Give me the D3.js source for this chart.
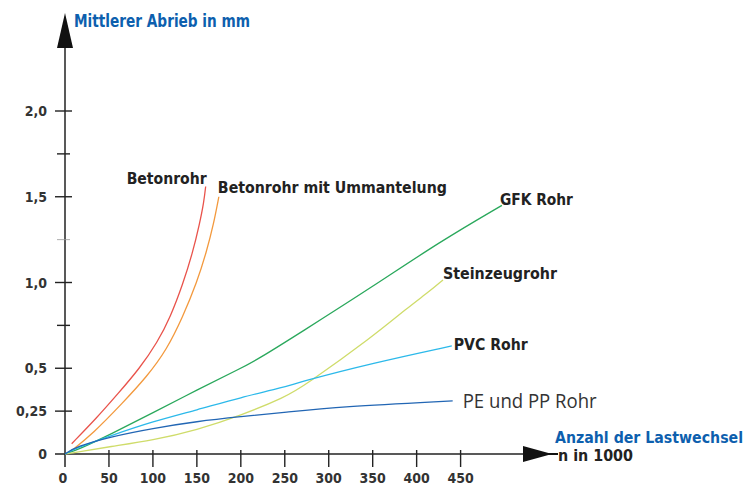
<!DOCTYPE html>
<html>
<head>
<meta charset="utf-8">
<script src="https://cdn.jsdelivr.net/npm/d3@7"></script>
<style>
  body { margin: 0; background: #fff; }
  svg { display: block; }
</style>
</head>
<body>
<div id="chart"></div>
<script>
// axis ticks
var xTicks = [0, 50, 100, 150, 200, 250, 300, 350, 400, 450];
var yTicks = [0, 0.25, 0.5, 1.0, 1.5, 2.0];
var yTickLabels = ["0", "0,25", "0,5", "1,0", "1,5", "2,0"];
var yMinorTicks = [0.75, 1.25, 1.75];

// Lastwechsel (n in 1000) / mittlerer Abrieb (mm)
var betonX = [7.6, 36, 60, 85, 105, 120, 134, 145, 153, 158, 160];
var betonY = [0.06, 0.21, 0.35, 0.50, 0.65, 0.80, 0.99, 1.17, 1.34, 1.47, 1.56];

var ummX = [5, 32, 66, 93, 116, 134, 150, 161, 169, 175];
var ummY = [0.01, 0.12, 0.30, 0.45, 0.61, 0.80, 1.0, 1.18, 1.34, 1.50];

var gfkX = [0, 17, 51, 100, 150, 200, 218, 267, 350, 427, 497];
var gfkY = [0, 0.03, 0.113, 0.24, 0.373, 0.50, 0.548, 0.705, 0.976, 1.24, 1.45];

var steinX = [0, 13, 51, 100, 150, 200, 250, 273, 350, 389, 415, 430];
var steinY = [0, 0.01, 0.043, 0.08, 0.14, 0.225, 0.33, 0.40, 0.684, 0.85, 0.95, 1.015];

var pvcX = [0, 13, 51, 100, 150, 200, 250, 267, 350, 440];
var pvcY = [0, 0.035, 0.105, 0.19, 0.257, 0.33, 0.39, 0.42, 0.53, 0.63];

var peX = [0, 13, 51, 100, 150, 200, 250, 313, 441];
var peY = [0, 0.043, 0.10, 0.15, 0.19, 0.218, 0.243, 0.276, 0.31];

var seriesNames = ["Betonrohr", "Betonrohr mit Ummantelung", "GFK Rohr", "Steinzeugrohr", "PVC Rohr", "PE und PP Rohr"];
var seriesX = [betonX, ummX, gfkX, steinX, pvcX, peX];
var seriesY = [betonY, ummY, gfkY, steinY, pvcY, peY];

// look of each series and where its name sits next to the line end
var seriesStyle = [
  { color: "#e9534b", anchor: "end",   dx: 1,  dy: -2, size: 16, weight: "bold",   len: 80 },
  { color: "#f3993d", anchor: "start", dx: -1, dy: -4, size: 16, weight: "bold",   len: 229 },
  { color: "#2aa85c", anchor: "start", dx: -2, dy: 0,  size: 16, weight: "bold",   len: 73 },
  { color: "#cfdc6a", anchor: "start", dx: 0,  dy: -1, size: 16, weight: "bold",   len: 114 },
  { color: "#2cb9ea", anchor: "start", dx: 2,  dy: 4,  size: 16, weight: "bold",   len: 74 },
  { color: "#2266b4", anchor: "start", dx: 10, dy: 7,  size: 20, weight: "normal", len: 134 }
];

var width = 750, height = 485;
var boldFont = "'Liberation Sans Narrow', 'DejaVu Sans Condensed', sans-serif";
var axisColor = "#222";
var titleColor = "#0d5fae";

var svg = d3.select("#chart").append("svg")
  .attr("width", width)
  .attr("height", height);

var x = d3.scaleLinear().domain([0, 450]).range([65, 460.6]);
var y = d3.scaleLinear().domain([0, 2]).range([454, 111]);

// axes lines
var axes = svg.append("g");
axes.append("line")
  .attr("x1", x(0)).attr("x2", x(0))
  .attr("y1", y(0) + 13).attr("y2", 46)
  .attr("stroke", axisColor).attr("stroke-width", 1.5);
axes.append("line")
  .attr("x1", x(0) - 10).attr("x2", 525)
  .attr("y1", y(0)).attr("y2", y(0))
  .attr("stroke", axisColor).attr("stroke-width", 1.5);

// arrow heads
axes.append("path")
  .attr("d", "M" + (x(0) - 8) + ",48 L" + x(0) + ",13 L" + (x(0) + 8) + ",48 Z")
  .attr("fill", "#111");
axes.append("path")
  .attr("d", "M523," + (y(0) - 8) + " L552," + y(0) + " L523," + (y(0) + 8) + " Z")
  .attr("fill", "#111");
axes.append("line")
  .attr("x1", 545).attr("x2", 558)
  .attr("y1", y(0)).attr("y2", y(0))
  .attr("stroke", "#111").attr("stroke-width", 2);

// y ticks
axes.selectAll(".ytick")
  .data(yTicks.filter(function(d) { return d > 0; }))
  .enter().append("line")
  .attr("class", "ytick")
  .attr("x1", x(0) - 10).attr("x2", x(0) + 7)
  .attr("y1", function(d) { return y(d); })
  .attr("y2", function(d) { return y(d); })
  .attr("stroke", axisColor).attr("stroke-width", 1.4);

axes.selectAll(".yminor")
  .data(yMinorTicks)
  .enter().append("line")
  .attr("class", "yminor")
  .attr("x1", x(0) - 8).attr("x2", x(0) + 5)
  .attr("y1", function(d) { return y(d); })
  .attr("y2", function(d) { return y(d); })
  .attr("stroke", function(d) { return d === 1.25 ? "#999" : axisColor; })
  .attr("stroke-width", function(d) { return d === 1.25 ? 0.8 : 1.4; });

axes.selectAll(".ylabel")
  .data(yTicks)
  .enter().append("text")
  .attr("class", "ylabel")
  .attr("x", 47)
  .attr("y", function(d) { return y(d); })
  .attr("dy", "0.36em")
  .attr("text-anchor", "end")
  .style("font-family", boldFont)
  .style("font-weight", "bold")
  .style("font-size", "14px")
  .style("fill", "#333")
  .text(function(d, i) { return yTickLabels[i]; });

// x ticks
axes.selectAll(".xtick")
  .data(xTicks.filter(function(d) { return d > 0; }))
  .enter().append("line")
  .attr("class", "xtick")
  .attr("x1", function(d) { return x(d); })
  .attr("x2", function(d) { return x(d); })
  .attr("y1", y(0) - 4).attr("y2", y(0) + 13)
  .attr("stroke", axisColor).attr("stroke-width", 1.4);

axes.selectAll(".xlabel")
  .data(xTicks)
  .enter().append("text")
  .attr("class", "xlabel")
  .attr("x", function(d) { return x(d) - (d === 0 ? 2 : 0); })
  .attr("y", 483)
  .attr("text-anchor", "middle")
  .style("font-family", boldFont)
  .style("font-weight", "bold")
  .style("font-size", "14px")
  .style("fill", "#333")
  .text(function(d) { return d; });

// axis titles
svg.append("text")
  .attr("x", 74).attr("y", 27)
  .attr("textLength", 176).attr("lengthAdjust", "spacingAndGlyphs")
  .style("font-family", boldFont).style("font-weight", "bold")
  .style("font-size", "18px").style("fill", titleColor)
  .text("Mittlerer Abrieb in mm");

svg.append("text")
  .attr("x", 555).attr("y", 443)
  .attr("textLength", 188).attr("lengthAdjust", "spacingAndGlyphs")
  .style("font-family", boldFont).style("font-weight", "bold")
  .style("font-size", "16px").style("fill", titleColor)
  .text("Anzahl der Lastwechsel");

svg.append("text")
  .attr("x", 558).attr("y", 461)
  .attr("textLength", 75).attr("lengthAdjust", "spacingAndGlyphs")
  .style("font-family", boldFont).style("font-weight", "bold")
  .style("font-size", "15px").style("fill", "#222")
  .text("n in 1000");

// curves
var line = d3.line()
  .x(function(d) { return x(d[0]); })
  .y(function(d) { return y(d[1]); })
  .curve(d3.curveBasis);

var series = seriesNames.map(function(name, i) {
  return { name: name, points: seriesX[i].map(function(v, j) { return [v, seriesY[i][j]]; }), style: seriesStyle[i] };
});

svg.selectAll(".curve")
  .data(series)
  .enter().append("path")
  .attr("class", "curve")
  .attr("d", function(d) { return line(d.points); })
  .attr("fill", "none")
  .attr("stroke", function(d) { return d.style.color; })
  .attr("stroke-width", 1.3);

svg.selectAll(".curvelabel")
  .data(series)
  .enter().append("text")
  .attr("class", "curvelabel")
  .attr("x", function(d) { var p = d.points[d.points.length - 1]; return x(p[0]) + d.style.dx; })
  .attr("y", function(d) { var p = d.points[d.points.length - 1]; return y(p[1]) + d.style.dy; })
  .attr("text-anchor", function(d) { return d.style.anchor; })
  .attr("textLength", function(d) { return d.style.len; })
  .attr("lengthAdjust", "spacingAndGlyphs")
  .style("font-family", function(d) { return d.style.weight === "bold" ? boldFont : "'Open Sans', sans-serif"; })
  .style("font-weight", function(d) { return d.style.weight; })
  .style("font-size", function(d) { return d.style.size + "px"; })
  .style("fill", function(d) { return d.style.weight === "bold" ? "#222" : "#333"; })
  .text(function(d) { return d.name; });
</script>
</body>
</html>
